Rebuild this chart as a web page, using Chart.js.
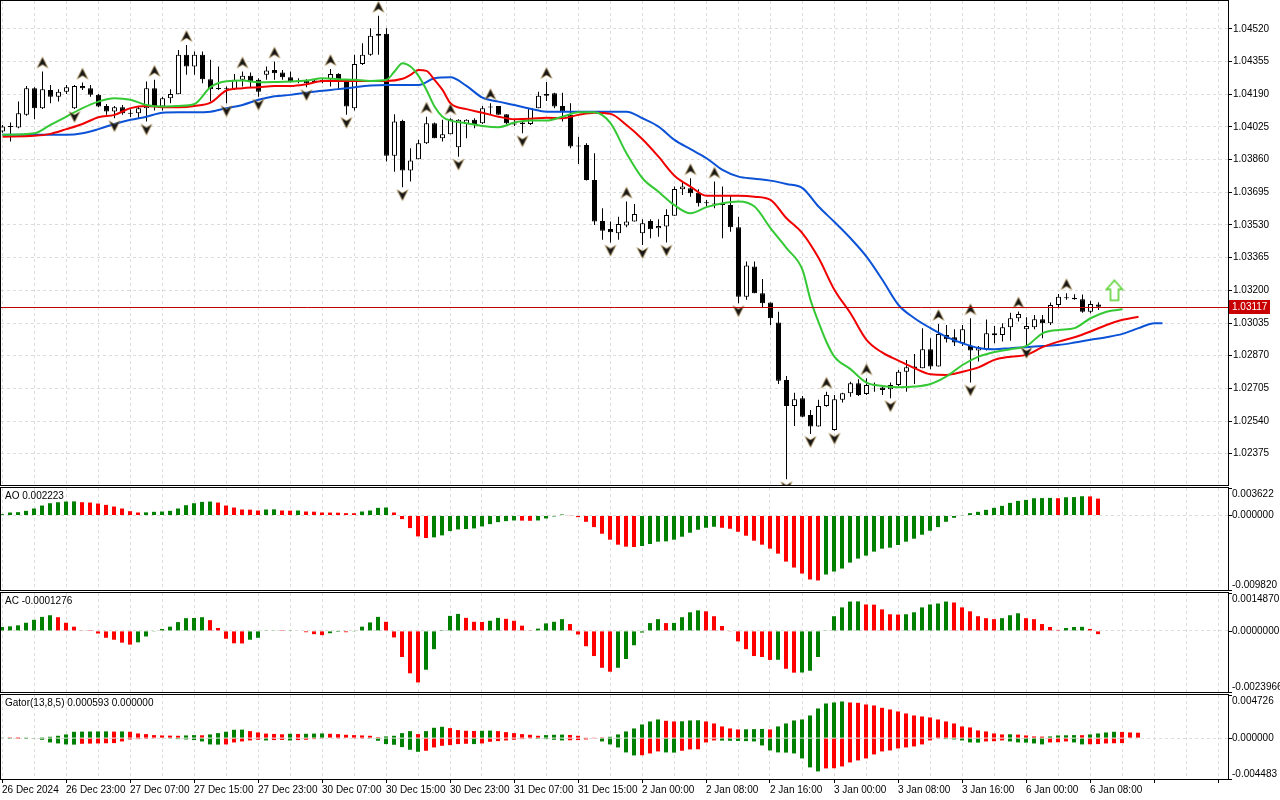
<!DOCTYPE html>
<html>
<head>
<meta charset="utf-8">
<script src="https://cdn.jsdelivr.net/npm/chart.js"></script>
<style>
html, body { margin: 0; padding: 0; background: #fff; }
#wrap { position: relative; width: 1280px; height: 800px; overflow: hidden; }
canvas { position: absolute; left: 0; }
</style>
</head>
<body>
<div id="wrap">
  <canvas id="main" width="1280" height="487" style="top:0px"></canvas>
  <canvas id="ao" width="1280" height="105" style="top:487px"></canvas>
  <canvas id="ac" width="1280" height="102" style="top:592px"></canvas>
  <canvas id="gator" width="1280" height="106" style="top:694px"></canvas>
</div>
<script>
// H1 bars, 26 Dec 2024 15:00 .. 6 Jan 09:00
const tickLabels = ['26 Dec 2024', '26 Dec 23:00', '27 Dec 07:00', '27 Dec 15:00', '27 Dec 23:00', '30 Dec 07:00',
  '30 Dec 15:00', '30 Dec 23:00', '31 Dec 07:00', '31 Dec 15:00', '2 Jan 00:00', '2 Jan 08:00', '2 Jan 16:00',
  '3 Jan 00:00', '3 Jan 08:00', '3 Jan 16:00', '6 Jan 00:00', '6 Jan 08:00'];
const priceTicks = [1.04520, 1.04355, 1.04190, 1.04025, 1.03860, 1.03695, 1.03530, 1.03365, 1.03200, 1.03035,
  1.02870, 1.02705, 1.02540, 1.02375];
const priceMax = 1.04661, priceMin = 1.02217;
const aoTicks = [0.003622, 0, -0.009820];
const acTicks = [0.0014870, 0, -0.0023966];
const gatorTicks = [0.004726, 0, -0.004483];

const open = [1.04002,1.04027,1.04022,1.04086,1.04221,1.04120,1.04212,1.04178,1.04203,1.04120,
 1.04232,1.04221,1.04187,1.04131,1.04103,1.04125,1.04094,1.04094,1.04120,1.04221,
 1.04128,1.04170,1.04190,1.04389,1.04330,1.04389,1.04266,1.04221,1.04221,1.04215,
 1.04263,1.04283,1.04263,1.04288,1.04313,1.04300,1.04276,1.04254,1.04259,1.04249,
 1.04259,1.04266,1.04293,1.04263,1.04120,1.04343,1.04389,1.04485,1.04495,1.03880,
 1.04055,1.03805,1.03862,1.03943,1.04044,1.03968,1.03988,1.03923,1.04040,1.04061,
 1.04044,1.04125,1.04131,1.04089,1.04040,1.04047,1.04040,1.04120,1.04183,1.04195,
 1.04131,1.04086,1.03929,1.03934,1.03757,1.03550,1.03510,1.03488,1.03527,1.03547,
 1.03488,1.03550,1.03514,1.03522,1.03577,1.03711,1.03716,1.03693,1.03640,1.03636,
 1.03631,1.03631,1.03519,1.03168,1.03320,1.03185,1.03138,1.03037,1.02747,1.02616,
 1.02655,1.02571,1.02512,1.02616,1.02495,1.02647,1.02680,1.02731,1.02677,1.02722,
 1.02709,1.02701,1.02722,1.02789,1.02815,1.02807,1.02903,1.02815,1.02975,1.02963,
 1.02933,1.02919,1.02896,1.02903,1.02983,1.02975,1.03014,1.03059,1.03004,1.03014,
 1.03054,1.03034,1.03126,1.03163,1.03163,1.03155,1.03092,1.03128];
const high = [1.04035,1.04047,1.04153,1.04232,1.04226,1.04305,1.04237,1.04216,1.04237,1.04237,
 1.04249,1.04237,1.04192,1.04141,1.04131,1.04136,1.04115,1.04128,1.04254,1.04263,
 1.04178,1.04216,1.04414,1.04439,1.04406,1.04406,1.04364,1.04330,1.04229,1.04293,
 1.04305,1.04300,1.04271,1.04330,1.04355,1.04313,1.04305,1.04271,1.04266,1.04266,
 1.04266,1.04317,1.04296,1.04263,1.04389,1.04448,1.04524,1.04586,1.04524,1.04089,
 1.04061,1.03918,1.03960,1.04077,1.04047,1.04061,1.04069,1.04064,1.04064,1.04069,
 1.04131,1.04145,1.04131,1.04089,1.04061,1.04052,1.04121,1.04203,1.04252,1.04198,
 1.04198,1.04145,1.03975,1.03943,1.03892,1.03615,1.03547,1.03572,1.03648,1.03636,
 1.03559,1.03559,1.03559,1.03610,1.03724,1.03749,1.03766,1.03711,1.03656,1.03749,
 1.03724,1.03682,1.03572,1.03345,1.03345,1.03257,1.03138,1.03092,1.02768,1.02683,
 1.02667,1.02596,1.02647,1.02688,1.02672,1.02683,1.02739,1.02751,1.02756,1.02734,
 1.02722,1.02734,1.02798,1.02848,1.02879,1.03009,1.02958,1.03030,1.03025,1.03003,
 1.03025,1.03059,1.02919,1.03053,1.03020,1.03034,1.03087,1.03093,1.03064,1.03076,
 1.03076,1.03138,1.03182,1.03185,1.03180,1.03179,1.03148,1.03140];
const low = [1.03996,1.03951,1.04019,1.04082,1.04064,1.04116,1.04145,1.04153,1.04192,1.04116,
 1.04212,1.04178,1.04125,1.04086,1.04069,1.04086,1.04075,1.04069,1.04052,1.04108,
 1.04108,1.04145,1.04190,1.04288,1.04288,1.04246,1.04153,1.04212,1.04145,1.04212,
 1.04229,1.04226,1.04178,1.04263,1.04263,1.04263,1.04249,1.04246,1.04226,1.04249,
 1.04246,1.04229,1.04212,1.04086,1.04108,1.04338,1.04384,1.04389,1.03850,1.03799,
 1.03721,1.03749,1.03862,1.03939,1.03968,1.03951,1.03988,1.03875,1.03968,1.04019,
 1.04040,1.04086,1.04086,1.04040,1.04030,1.03993,1.04035,1.04120,1.04156,1.04120,
 1.04052,1.03918,1.03838,1.03754,1.03530,1.03455,1.03441,1.03455,1.03519,1.03547,
 1.03429,1.03463,1.03471,1.03441,1.03577,1.03682,1.03673,1.03623,1.03623,1.03614,
 1.03463,1.03496,1.03135,1.03152,1.03185,1.03111,1.03025,1.02727,1.02246,1.02515,
 1.02559,1.02475,1.02512,1.02612,1.02491,1.02633,1.02663,1.02667,1.02672,1.02688,
 1.02672,1.02655,1.02717,1.02688,1.02727,1.02807,1.02802,1.02815,1.02936,1.02919,
 1.02919,1.02734,1.02840,1.02896,1.02933,1.02941,1.02946,1.03042,1.02924,1.03004,
 1.02958,1.03025,1.03110,1.03152,1.03152,1.03087,1.03084,1.03101];
const close = [1.04027,1.04025,1.04094,1.04221,1.04120,1.04216,1.04178,1.04203,1.04226,1.04232,
 1.04221,1.04187,1.04128,1.04103,1.04125,1.04094,1.04092,1.04120,1.04221,1.04128,
 1.04170,1.04192,1.04389,1.04330,1.04389,1.04266,1.04216,1.04217,1.04215,1.04263,
 1.04283,1.04254,1.04203,1.04310,1.04296,1.04276,1.04254,1.04259,1.04246,1.04259,
 1.04257,1.04293,1.04263,1.04128,1.04343,1.04389,1.04485,1.04495,1.03880,1.04052,
 1.03805,1.03855,1.03943,1.04044,1.03968,1.03988,1.04064,1.04061,1.04061,1.04040,
 1.04120,1.04123,1.04086,1.04044,1.04038,1.04040,1.04120,1.04183,1.04192,1.04128,
 1.04103,1.03926,1.03926,1.03757,1.03547,1.03501,1.03493,1.03535,1.03547,1.03586,
 1.03539,1.03509,1.03525,1.03581,1.03712,1.03724,1.03690,1.03640,1.03643,1.03633,
 1.03633,1.03519,1.03168,1.03325,1.03185,1.03135,1.03059,1.02744,1.02616,1.02650,
 1.02562,1.02512,1.02616,1.02672,1.02650,1.02680,1.02731,1.02672,1.02722,1.02719,
 1.02697,1.02722,1.02789,1.02811,1.02807,1.02903,1.02815,1.02980,1.02953,1.02936,
 1.03003,1.02896,1.02913,1.02983,1.02973,1.03014,1.03059,1.03081,1.03020,1.03054,
 1.03034,1.03126,1.03168,1.03160,1.03155,1.03092,1.03131,1.03117];

// Alligator lines, read at these bar positions (already shifted forward)
const jawIdx = [0,4,8,10,12,14,16,18,20,22,24,26,28,30,32,34,36,38,40,42,44,46,48,52,54,56,58,60,62,64,
 66,68,78,80,82,84,86,88,90,92,94,96,98,100,102,104,106,108,110,112,114,116,118,120,122,124,126,128,130,132,
 134,136,138,140,142,144,145];
const jawVal = [1.03985,1.03985,1.03985,1.03993,1.04014,1.04040,1.04061,1.04077,1.04097,1.04099,
 1.04099,1.04102,1.04120,1.04136,1.04162,1.04180,1.04187,1.04198,1.04208,1.04216,
 1.04226,1.04234,1.04237,1.04237,1.04271,1.04276,1.04232,1.04173,1.04153,1.04136,
 1.04117,1.04102,1.04102,1.04069,1.04027,1.03960,1.03913,1.03867,1.03808,1.03774,
 1.03764,1.03754,1.03737,1.03716,1.03623,1.03545,1.03463,1.03370,1.03252,1.03126,
 1.03059,1.03009,1.02965,1.02933,1.02909,1.02903,1.02908,1.02913,1.02919,1.02924,
 1.02936,1.02950,1.02963,1.02980,1.03009,1.03034,1.03034];
const teethIdx = [0,4,6,8,10,12,14,16,18,20,22,24,26,28,30,32,34,36,38,40,44,48,50,51,52,53,54,55,56,58,
 60,62,64,66,68,70,72,74,76,78,80,82,84,86,88,90,92,94,96,98,100,102,104,106,108,110,112,114,116,118,
 120,122,124,126,128,130,132,134,136,138,140,142];
const teethVal = [1.03976,1.03980,1.03990,1.04014,1.04040,1.04074,1.04086,1.04120,1.04131,1.04125,
 1.04125,1.04131,1.04148,1.04209,1.04221,1.04226,1.04232,1.04232,1.04241,1.04257,
 1.04257,1.04257,1.04268,1.04288,1.04313,1.04308,1.04263,1.04212,1.04145,1.04115,
 1.04097,1.04077,1.04064,1.04066,1.04072,1.04069,1.04086,1.04097,1.04091,1.04035,
 1.03963,1.03875,1.03779,1.03724,1.03677,1.03677,1.03677,1.03673,1.03657,1.03564,
 1.03488,1.03364,1.03202,1.03084,1.02950,1.02885,1.02845,1.02807,1.02776,1.02773,
 1.02789,1.02811,1.02849,1.02865,1.02874,1.02913,1.02941,1.02963,1.02992,1.03025,
 1.03051,1.03067];
const lipsIdx = [0,4,6,8,10,12,14,16,18,20,22,24,26,28,30,32,34,36,38,40,42,44,46,48,49,50,51,52,53,54,
 55,56,58,60,62,64,66,68,70,72,74,76,78,80,82,84,86,88,90,92,94,96,98,100,101,102,103,104,106,108,
 110,112,114,116,118,120,122,124,126,128,130,132,134,136,138,140];
const lipsVal = [1.03985,1.03993,1.04035,1.04077,1.04120,1.04153,1.04170,1.04162,1.04136,1.04128,
 1.04131,1.04141,1.04226,1.04256,1.04259,1.04251,1.04252,1.04254,1.04259,1.04271,
 1.04266,1.04263,1.04257,1.04263,1.04305,1.04347,1.04330,1.04283,1.04212,1.04128,
 1.04077,1.04057,1.04044,1.04030,1.04024,1.04047,1.04057,1.04057,1.04077,1.04099,
 1.04099,1.04044,1.03892,1.03766,1.03698,1.03630,1.03589,1.03620,1.03640,1.03649,
 1.03623,1.03514,1.03413,1.03303,1.03152,1.03040,1.02939,1.02864,1.02802,1.02734,
 1.02717,1.02711,1.02714,1.02727,1.02765,1.02823,1.02865,1.02889,1.02903,1.02919,
 1.02983,1.03000,1.03009,1.03059,1.03092,1.03104];

const fractalUp = [5,10,19,23,30,34,41,47,53,56,61,68,78,86,89,103,108,117,121,127,133];
const fractalDown = [9,14,18,28,32,38,43,50,57,65,76,80,83,92,98,101,104,111,121,128];
const signalBars = [139];
const signalPrice = [1.03200];

const ao = [0.000175,0.000393,0.000437,0.000612,0.000918,0.001311,0.001617,0.001748,0.001835,0.001857,
 0.001748,0.001704,0.001573,0.001398,0.001180,0.000918,0.000568,0.000393,0.000415,0.000481,
 0.000524,0.000612,0.000918,0.001355,0.001617,0.001792,0.001835,0.001704,0.001311,0.001049,
 0.000787,0.000765,0.000656,0.000787,0.000808,0.000656,0.000634,0.000656,0.000524,0.000503,
 0.000393,0.000385,0.000371,0.000306,0.000297,0.000524,0.000656,0.001005,0.001049,0.000393,
 -0.000481,-0.001661,-0.002753,-0.002972,-0.002884,-0.002622,-0.002054,-0.001835,-0.001792,-0.001704,
 -0.001442,-0.001136,-0.000874,-0.000743,-0.000656,-0.000677,-0.000699,-0.000656,-0.000393,-0.000131,
 0.000131,-0.000044,-0.000219,-0.000830,-0.001530,-0.002404,-0.003190,-0.003846,-0.004108,-0.004152,
 -0.004020,-0.003758,-0.003452,-0.003409,-0.003190,-0.002797,-0.002272,-0.001879,-0.001617,-0.001486,
 -0.001617,-0.001748,-0.002141,-0.002666,-0.003321,-0.003846,-0.004370,-0.005026,-0.006074,-0.006861,
 -0.007648,-0.008434,-0.008565,-0.007779,-0.007385,-0.006992,-0.006205,-0.005681,-0.005288,-0.004763,
 -0.004370,-0.004239,-0.003889,-0.003452,-0.003059,-0.002535,-0.002010,-0.001530,-0.000830,-0.000306,
 -0.000044,0.000306,0.000481,0.000743,0.001005,0.001267,0.001661,0.001923,0.002054,0.002272,
 0.002294,0.002316,0.002272,0.002404,0.002425,0.002535,0.002513,0.002223];
const ac = [0.000154,0.000179,0.000218,0.000320,0.000435,0.000550,0.000614,0.000538,0.000320,0.000166,
 0.000026,0.000006,-0.000102,-0.000269,-0.000346,-0.000461,-0.000538,-0.000448,-0.000218,-0.000013,
 0.000077,0.000166,0.000346,0.000499,0.000506,0.000538,0.000422,0.000115,-0.000307,-0.000486,
 -0.000493,-0.000346,-0.000269,0.000013,0.000026,0.000006,0.000013,0.000019,-0.000051,-0.000128,
 -0.000166,-0.000090,-0.000038,-0.000051,-0.000013,0.000166,0.000333,0.000550,0.000358,-0.000256,
 -0.001024,-0.001664,-0.002022,-0.001523,-0.000717,0.000006,0.000589,0.000666,0.000512,0.000358,
 0.000352,0.000397,0.000512,0.000474,0.000397,0.000205,0.000026,0.000090,0.000294,0.000358,
 0.000461,0.000269,-0.000141,-0.000602,-0.000986,-0.001446,-0.001600,-0.001446,-0.001101,-0.000563,
 -0.000064,0.000307,0.000461,0.000307,0.000314,0.000538,0.000730,0.000806,0.000768,0.000576,
 0.000192,-0.000013,-0.000410,-0.000717,-0.000986,-0.001024,-0.001139,-0.001133,-0.001485,-0.001638,
 -0.001632,-0.001562,-0.001024,0.000026,0.000576,0.000922,0.001152,0.001158,0.001037,0.001030,
 0.000845,0.000653,0.000640,0.000653,0.000730,0.000922,0.001037,0.001075,0.001152,0.001114,
 0.000922,0.000768,0.000576,0.000499,0.000461,0.000499,0.000614,0.000691,0.000499,0.000461,
 0.000269,0.000154,0.000038,0.000115,0.000154,0.000160,0.000077,-0.0001276];
const gatorUp = [0.000037,0.000018,0.000015,0.000029,0.000055,0.000091,0.000146,0.000256,0.000402,0.000694,
 0.000712,0.000723,0.000730,0.000737,0.000712,0.000730,0.000694,0.000511,0.000438,0.000329,
 0.000292,0.000274,0.000256,0.000292,0.000329,0.000310,0.000402,0.000548,0.000694,0.000913,
 0.000931,0.000767,0.000621,0.000493,0.000456,0.000420,0.000475,0.000456,0.000475,0.000493,
 0.000511,0.000475,0.000438,0.000365,0.000329,0.000292,0.000256,0.000110,0.000183,0.000256,
 0.000548,0.000767,0.000438,0.000767,0.001132,0.001241,0.001095,0.000876,0.000803,0.000785,
 0.000803,0.000821,0.000767,0.000657,0.000548,0.000438,0.000365,0.000256,0.000329,0.000365,
 0.000383,0.000347,0.000256,0.000073,0.000037,0.000018,0.000146,0.000402,0.000730,0.001059,
 0.001497,0.001825,0.002044,0.001898,0.001825,0.001843,0.001935,0.001953,0.001825,0.001606,
 0.001278,0.001059,0.000949,0.000967,0.000986,0.001004,0.000949,0.001278,0.001606,0.001935,
 0.002044,0.002482,0.003249,0.003796,0.003906,0.004015,0.003906,0.003869,0.003687,0.003577,
 0.003322,0.003139,0.002920,0.002701,0.002482,0.002373,0.002263,0.002044,0.001825,0.001606,
 0.001278,0.001168,0.000840,0.000730,0.000511,0.000402,0.000420,0.000383,0.000292,0.000183,
 0.000164,0.000183,0.000292,0.000310,0.000329,0.000321,0.000402,0.000511,0.000621,0.000694,
 0.000675,0.000621,0.000593];
const gatorDown = [0,-0.000018,-0.000015,-0.000018,-0.000037,-0.000183,-0.000475,-0.000584,-0.000694,-0.000712,
 -0.000621,-0.000602,-0.000584,-0.000566,-0.000548,-0.000365,-0.000146,-0.000110,-0.000091,-0.000073,
 -0.000055,-0.000073,-0.000110,-0.000146,-0.000219,-0.000365,-0.000694,-0.000712,-0.000694,-0.000475,
 -0.000365,-0.000256,-0.000183,-0.000256,-0.000219,-0.000201,-0.000256,-0.000219,-0.000183,-0.000110,
 -0.000073,-0.000055,-0.000037,-0.000055,-0.000037,-0.000029,-0.000073,-0.000292,-0.000657,-0.000730,
 -0.000986,-0.001278,-0.001497,-0.001387,-0.001022,-0.000840,-0.000767,-0.000657,-0.000621,-0.000657,
 -0.000584,-0.000402,-0.000329,-0.000256,-0.000183,-0.000110,-0.000073,-0.000091,-0.000110,-0.000183,
 -0.000256,-0.000237,-0.000219,-0.000146,-0.000073,-0.000365,-0.000694,-0.001022,-0.001570,-0.001898,
 -0.001880,-0.001679,-0.001460,-0.001570,-0.001588,-0.001387,-0.001241,-0.001223,-0.000475,-0.000256,
 -0.000274,-0.000292,-0.000310,-0.000329,-0.000365,-0.000803,-0.001351,-0.001570,-0.001588,-0.001679,
 -0.002227,-0.003212,-0.003650,-0.003322,-0.003303,-0.003103,-0.002665,-0.002446,-0.002227,-0.001789,
 -0.001460,-0.001351,-0.001132,-0.001022,-0.000913,-0.000694,-0.000256,-0.000037,-0.000110,-0.000146,
 -0.000256,-0.000475,-0.000493,-0.000365,-0.000347,-0.000256,-0.000365,-0.000475,-0.000493,-0.000584,
 -0.000694,-0.000475,-0.000456,-0.000365,-0.000475,-0.000694,-0.000675,-0.000657,-0.000584,-0.000566,
 -0.000548,0,0];

const FONT = '"Liberation Sans", Arial, sans-serif';
Chart.defaults.font.family = FONT;
Chart.defaults.font.size = 10;
Chart.defaults.color = '#000';
const GRID = '#dcdcdc';
const UP = '#008000', DOWN = '#ff0000';

// frame, panel title, indicator axis labels and bid line
const mtFrame = {
  id: 'mtFrame',
  afterDraw(chart, args, o) {
    const { ctx, chartArea: a } = chart;
    const ys = chart.scales.y;
    ctx.save();
    ctx.setLineDash([]);
    ctx.strokeStyle = '#000';
    ctx.lineWidth = 1;
    ctx.strokeRect(a.left - 0.5, a.top - 0.5, a.right - a.left + 1, a.bottom - a.top + 1);
    ctx.font = '10px ' + FONT;
    ctx.fillStyle = '#000';
    ctx.textAlign = 'left';
    if (o.title) {
      ctx.textBaseline = 'top';
      ctx.fillText(o.title, a.left + 4, a.top + 3);
    }
    if (o.axis) {
      o.axis.forEach((v, k) => {
        const py = Math.round(ys.getPixelForValue(v)) + 0.5;
        ctx.beginPath(); ctx.moveTo(a.right, py); ctx.lineTo(a.right + 4, py); ctx.stroke();
        ctx.textBaseline = k === 0 ? 'top' : (k === 1 ? 'middle' : 'bottom');
        const ty = k === 0 ? a.top + 1 : (k === 1 ? py : a.bottom);
        ctx.fillText(v.toFixed(o.digits), a.right + 4, ty);
      });
    }
    if (o.bid !== undefined) {
      const py = Math.round(ys.getPixelForValue(o.bid)) + 0.5;
      ctx.strokeStyle = '#c00000';
      ctx.beginPath(); ctx.moveTo(a.left, py); ctx.lineTo(a.right, py); ctx.stroke();
      ctx.fillStyle = '#c80000';
      ctx.fillRect(a.right + 1, py - 7.5, 41, 14);
      ctx.fillStyle = '#fff';
      ctx.textBaseline = 'middle';
      ctx.fillText(o.bid.toFixed(5), a.right + 4, py);
    }
    ctx.restore();
  }
};

function xScale(minX, labels) {
  return {
    type: 'linear', min: minX, max: minX + 1227 / 8, offset: false,
    afterBuildTicks: s => {
      const t = [];
      for (let v = 0; v <= s.max; v += 4) t.push({ value: v });
      s.ticks = t;
    },
    afterFit: s => { s.height = labels ? 21 : 0; s.paddingLeft = 0; s.paddingRight = 0; },
    border: { display: false, dash: [3, 3] },
    grid: {
      offset: false, color: GRID, drawTicks: labels, tickLength: 4, tickBorderDash: [],
      tickColor: c => (c.tick && c.tick.value % 8 === 0) ? '#000' : 'rgba(0,0,0,0)'
    },
    ticks: {
      display: labels, autoSkip: false, maxRotation: 0, minRotation: 0, align: 'start', padding: 1,
      callback: v => v % 8 === 0 ? (tickLabels[v / 8] || '') : ''
    }
  };
}

function indicatorY(t) {
  return {
    position: 'right', min: t[2], max: t[0], beginAtZero: false,
    afterBuildTicks: s => { s.ticks = [{ value: 0 }]; },
    afterFit: s => { s.width = 52; s.paddingTop = 0; s.paddingBottom = 0; },
    border: { display: false, dash: [3, 3] },
    grid: { color: GRID, drawTicks: false },
    ticks: { display: false }
  };
}

function options(minX, labels, y, frame) {
  return {
    responsive: false, animation: false, devicePixelRatio: 1, events: [],
    layout: { autoPadding: false, padding: { left: 1, top: 1, right: 0, bottom: labels ? 0 : 2 } },
    plugins: { legend: { display: false }, tooltip: { enabled: false }, mtFrame: frame },
    scales: { x: xScale(minX, labels), y: y }
  };
}

function risingColors(vals) {
  return vals.map((v, i) => i === 0 || Math.abs(v) > Math.abs(vals[i - 1]) ? UP : DOWN);
}
function aoColors(vals) {
  return vals.map((v, i) => i === 0 || v > vals[i - 1] ? UP : DOWN);
}

function arrowImg(up) {
  const c = document.createElement('canvas');
  c.width = 14; c.height = 36;
  const g = c.getContext('2d');
  const s = up ? 1 : -1;
  const cx = 7, cy = up ? 18 - 9 : 18 + 8;
  g.beginPath();
  g.moveTo(cx, cy - 5.5 * s);
  g.lineTo(cx + 5.5, cy + 5.5 * s);
  g.lineTo(cx, cy + 2 * s);
  g.lineTo(cx - 5.5, cy + 5.5 * s);
  g.closePath();
  g.fillStyle = '#161616';
  g.fill();
  g.strokeStyle = 'rgba(200,160,80,0.75)';
  g.lineWidth = 0.7;
  g.stroke();
  return c;
}

function signalImg() {
  const c = document.createElement('canvas');
  c.width = 20; c.height = 24;
  const g = c.getContext('2d');
  g.translate(10, 12);
  g.beginPath();
  g.moveTo(0, -10); g.lineTo(8, -1); g.lineTo(4, -1); g.lineTo(4, 10);
  g.lineTo(-4, 10); g.lineTo(-4, -1); g.lineTo(-8, -1); g.closePath();
  g.fillStyle = '#fff'; g.fill();
  g.strokeStyle = '#55d12e'; g.lineWidth = 1.5; g.stroke();
  return c;
}

const bars = open.map((_, i) => i);
const line = (idx, vals, color, order) => ({
  type: 'line', data: idx.map((x, k) => ({ x: x, y: vals[k] })), borderColor: color, borderWidth: 2,
  pointRadius: 0, cubicInterpolationMode: 'monotone', order: order
});

new Chart(document.getElementById('main'), {
  type: 'bar',
  data: {
    datasets: [
      { data: bars.map(i => ({ x: i, y: [low[i], high[i]] })), backgroundColor: '#000',
        barThickness: 1, grouped: false, inflateAmount: 0, order: 6 },
      { data: bars.map(i => ({ x: i, y: [open[i], close[i]] })),
        backgroundColor: bars.map(i => close[i] >= open[i] ? '#fff' : '#000'),
        borderColor: '#000', borderWidth: 1, borderSkipped: false, barThickness: 5, grouped: false,
        inflateAmount: 0, minBarLength: 1, order: 5 },
      line(jawIdx, jawVal, '#0b52d6', 4),
      line(teethIdx, teethVal, '#f00000', 3),
      line(lipsIdx, lipsVal, '#34c934', 2),
      { type: 'scatter', data: fractalUp.map(i => ({ x: i, y: high[i] })), pointStyle: arrowImg(true), pointRadius: 5, order: 1 },
      { type: 'scatter', data: fractalDown.map(i => ({ x: i, y: low[i] })), pointStyle: arrowImg(false), pointRadius: 5, order: 1 },
      { type: 'scatter', data: signalBars.map((x, k) => ({ x: x, y: signalPrice[k] })), pointStyle: signalImg(), pointRadius: 5, order: 0 }
    ]
  },
  options: options(-0.1875, false, {
    position: 'right', min: priceMin, max: priceMax, beginAtZero: false,
    afterBuildTicks: s => { s.ticks = priceTicks.map(v => ({ value: v })); },
    afterFit: s => { s.width = 52; s.paddingTop = 0; s.paddingBottom = 0; },
    border: { display: false, dash: [3, 3] },
    grid: { color: GRID, tickLength: 4, tickColor: '#000', tickBorderDash: [] },
    ticks: { padding: 1, callback: v => v.toFixed(5) }
  }, { bid: close[close.length - 1] }),
  plugins: [mtFrame]
});

const histo = (vals, colors) => ({
  data: vals.map((v, i) => ({ x: i, y: v })), backgroundColor: colors,
  barThickness: 4, grouped: false, inflateAmount: 0
});

new Chart(document.getElementById('ao'), {
  type: 'bar',
  data: { datasets: [histo(ao, aoColors(ao))] },
  options: options(-0.125, false, indicatorY(aoTicks),
    { title: 'AO ' + ao[ao.length - 1].toFixed(6), axis: aoTicks, digits: 6 }),
  plugins: [mtFrame]
});

new Chart(document.getElementById('ac'), {
  type: 'bar',
  data: { datasets: [histo(ac, aoColors(ac))] },
  options: options(-0.125, false, indicatorY(acTicks),
    { title: 'AC ' + ac[ac.length - 1].toFixed(7), axis: acTicks, digits: 7 }),
  plugins: [mtFrame]
});

new Chart(document.getElementById('gator'), {
  type: 'bar',
  data: { datasets: [histo(gatorUp, risingColors(gatorUp)), histo(gatorDown, risingColors(gatorDown))] },
  options: options(-0.125, true, indicatorY(gatorTicks), {
    title: 'Gator(13,8,5) ' + gatorUp[gatorUp.length - 1].toFixed(6) + ' ' +
      Math.abs(gatorDown[gatorDown.length - 1]).toFixed(6),
    axis: gatorTicks, digits: 6
  }),
  plugins: [mtFrame]
});
</script>
</body>
</html>
